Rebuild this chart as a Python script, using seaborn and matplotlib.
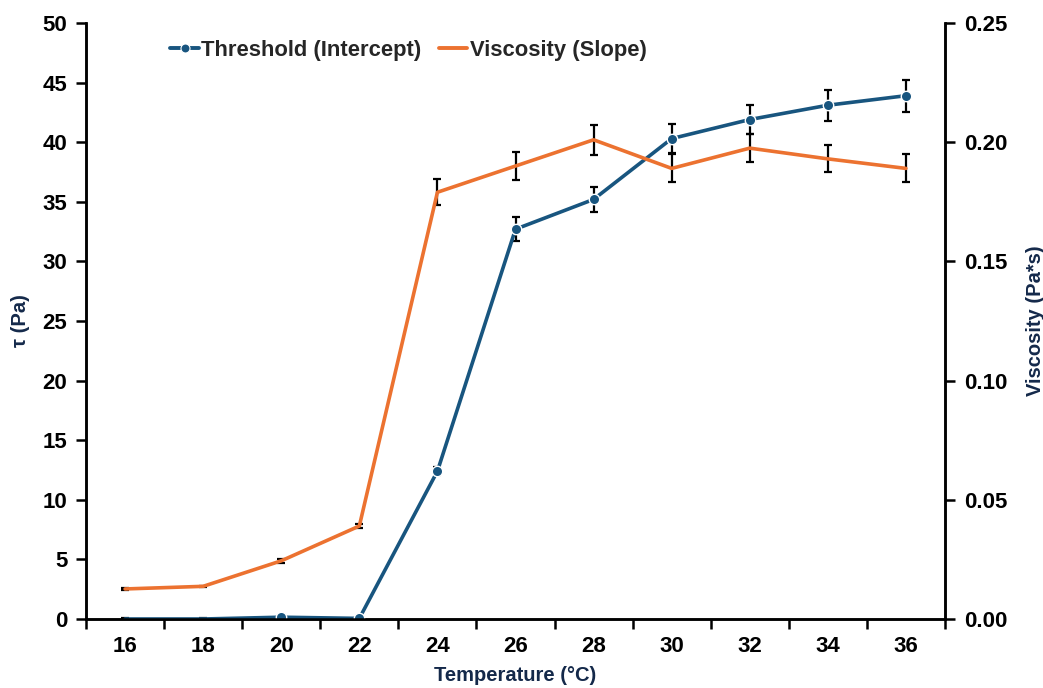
import matplotlib
matplotlib.use("Agg")
import matplotlib.pyplot as plt
import seaborn as sns
import numpy as np
import pandas as pd
from matplotlib.lines import Line2D

# Measured data
temperature = [16, 18, 20, 22, 24, 26, 28, 30, 32, 34, 36]
threshold = [0.0, 0.0, 0.15, 0.05, 12.4, 32.7, 35.2, 40.3, 41.9, 43.1, 43.9]
threshold_err = [0.05, 0.05, 0.1, 0.1, 0.35, 1.0, 1.05, 1.2, 1.25, 1.3, 1.35]
viscosity = [0.0126, 0.0137, 0.0244, 0.0390, 0.179, 0.190, 0.201, 0.189, 0.1975, 0.193, 0.189]
viscosity_err = [0.0003, 0.0003, 0.0008, 0.0009, 0.0055, 0.0057, 0.0063, 0.0059, 0.006, 0.0057, 0.0059]

left_ticks = [0, 5, 10, 15, 20, 25, 30, 35, 40, 45, 50]
right_ticks = [0.00, 0.05, 0.10, 0.15, 0.20, 0.25]

BLUE = "#18557f"
ORANGE = "#ec7230"
LABEL = "#14294a"

sns.set_theme(style="white")
plt.rcParams["font.family"] = ["Liberation Sans", "DejaVu Sans"]
plt.rcParams["font.weight"] = "bold"

df = pd.DataFrame({"T": temperature, "tau": threshold, "visc": viscosity})

fig = plt.figure(figsize=(10.43, 6.88), dpi=100)
ax = fig.add_axes([0.0825, 0.1003, 0.8235, 0.8663])
ax2 = ax.twinx()

# Threshold (left axis); points resting on the baseline carry no marker
ax.errorbar(temperature, threshold, yerr=threshold_err, fmt="none",
            ecolor="black", elinewidth=1.6, capsize=3, capthick=1.6, zorder=2)
sns.lineplot(data=df, x="T", y="tau", ax=ax, color=BLUE, linewidth=2.6,
             marker="o", markersize=7.5, markeredgecolor="white",
             markeredgewidth=1.0, markevery=list(range(2, len(temperature))),
             zorder=3, legend=False)

# Viscosity (right axis)
ax2.errorbar(temperature, viscosity, yerr=viscosity_err, fmt="none",
             ecolor="black", elinewidth=1.6, capsize=3, capthick=1.6, zorder=2)
sns.lineplot(data=df, x="T", y="visc", ax=ax2, color=ORANGE, linewidth=2.6,
             zorder=3, legend=False)

for a in (ax, ax2):
    a.set_xlim(15, 37)
    a.spines["top"].set_visible(False)
    for s in ("left", "right", "bottom"):
        a.spines[s].set_color("black")
        a.spines[s].set_linewidth(1.8)
    a.grid(False)

ax.set_ylim(0, 50)
ax2.set_ylim(0, 0.25)
ax.set_yticks(left_ticks)
ax.set_yticklabels([str(v) for v in left_ticks])
ax2.set_yticks(right_ticks)
ax2.set_yticklabels([f"{v:.2f}" for v in right_ticks])

# Category boundaries carry the tick marks, labels sit at the centres
ax.set_xticks(np.arange(15, 38, 2))
ax.set_xticklabels([])
ax.set_xticks(temperature, minor=True)
ax.set_xticklabels([str(t) for t in temperature], minor=True)
ax.tick_params(axis="x", which="major", direction="out", length=7, width=1.8,
               color="black", bottom=True)
ax.tick_params(axis="x", which="minor", length=0, pad=12, labelsize=16,
               labelcolor="black")
ax.tick_params(axis="y", direction="out", length=7, width=1.8, color="black",
               left=True, labelsize=16, pad=6.5, labelcolor="black")
ax2.tick_params(axis="y", direction="out", length=7, width=1.8, color="black",
                right=True, labelsize=16, pad=7, labelcolor="black")
for lab in ax.get_xticklabels(minor=True) + ax.get_yticklabels() + ax2.get_yticklabels():
    lab.set_fontweight("bold")

ax.set_xlabel("Temperature (°C)", fontsize=14.5, fontweight="bold", color=LABEL, labelpad=7)
ax.set_ylabel("τ (Pa)", fontsize=14.5, fontweight="bold", color=LABEL, labelpad=9)
ax2.set_ylabel("Viscosity (Pa*s)", fontsize=14.5, fontweight="bold", color=LABEL,
               labelpad=13, rotation=90)

handles = [
    Line2D([0], [0], color=BLUE, linewidth=2.8, marker="o", markersize=6.5,
           markeredgecolor="white", markeredgewidth=0.8),
    Line2D([0], [0], color=ORANGE, linewidth=2.8),
]
leg = fig.legend(handles, ["Threshold (Intercept)", "Viscosity (Slope)"],
                 loc="center left", bbox_to_anchor=(0.1443, 0.927), ncol=2,
                 frameon=False, fontsize=15.8, handlelength=1.3,
                 handletextpad=0.1, columnspacing=0.8)
for t in leg.get_texts():
    t.set_fontweight("bold")

fig.savefig("out.png", dpi=100, facecolor="white")
